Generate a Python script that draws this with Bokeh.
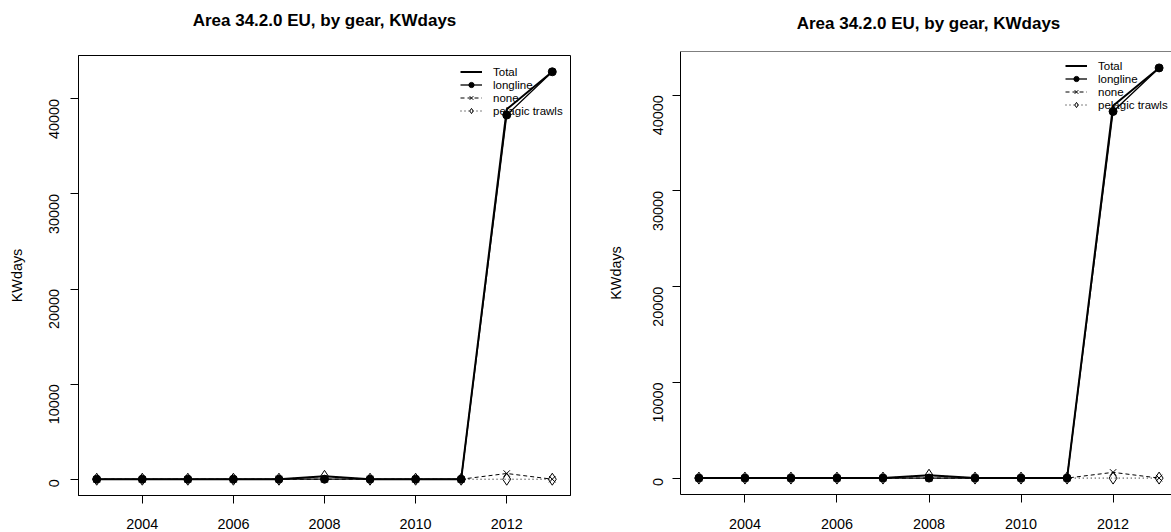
import math
from bokeh.plotting import figure
from bokeh.models import Range1d, FixedTicker, Legend, LegendItem, Span, Label
from bokeh.layouts import row, column
from bokeh.embed import file_html
from bokeh.resources import INLINE

# ---- data ----
years = [2003, 2004, 2005, 2006, 2007, 2008, 2009, 2010, 2011, 2012, 2013]
total = [0, 0, 0, 0, 0, 300, 0, 0, 0, 38900, 42850]
longline = [0, 0, 0, 0, 0, 0, 0, 0, 0, 38300, 42850]
none_gear = [0, 0, 0, 0, 0, 0, 0, 0, 0, 600, 0]
pelagic_trawls = [0, 0, 0, 0, 0, 300, 0, 0, 0, 0, 0]
x_ticks = [2004, 2006, 2008, 2010, 2012]
y_ticks = [0, 10000, 20000, 30000, 40000]
title_text = "Area 34.2.0 EU, by gear, KWdays"
y_label = "KWdays"
legend_labels = ["Total", "longline", "none", "pelagic trawls"]

FONT = "Liberation Sans"
H = 532
HT = 40  # height of the title strip


def make_title(width, cx, cy):
    t = figure(width=width, height=HT, x_range=Range1d(0, 1), y_range=Range1d(0, 1),
               output_backend="svg", toolbar_location=None,
               x_axis_location=None, y_axis_location=None,
               min_border_left=0, min_border_right=0, min_border_top=0,
               min_border_bottom=0, background_fill_color="white",
               border_fill_color="white")
    t.outline_line_color = None
    t.xgrid.visible = False
    t.ygrid.visible = False
    t.add_layout(Label(x=cx, y=HT - cy, x_units="screen", y_units="screen",
                       text=title_text, text_align="center", text_baseline="middle",
                       text_font=FONT, text_font_size="17px", text_font_style="bold",
                       text_color="black"))
    return t


def make_panel(width, mb_left, mb_right, mb_top, mb_bottom, x_end_frac, legend_loc,
               full_box, ylab_standoff, yaxis_standoff, xlab_standoff):
    ymax = max(max(total), max(longline), max(none_gear), max(pelagic_trawls))
    ymin = 0
    ypad = 0.04 * (ymax - ymin)
    xpad = 0.04 * (years[-1] - years[0])
    xlo = years[0] - xpad
    xhi = years[-1] + xpad
    if x_end_frac is not None:
        xhi = xlo + (xhi - xlo) * x_end_frac
    p = figure(width=width, height=H - HT, x_range=Range1d(xlo, xhi),
               y_range=Range1d(ymin - ypad, ymax + ypad),
               output_backend="svg", toolbar_location=None,
               min_border_left=mb_left, min_border_right=mb_right,
               min_border_top=mb_top, min_border_bottom=mb_bottom,
               background_fill_color="white", border_fill_color="white")
    p.xgrid.visible = False
    p.ygrid.visible = False
    if full_box:
        p.outline_line_color = "black"
        p.outline_line_width = 1
        p.outline_line_alpha = 1
    else:
        p.outline_line_color = None
        p.add_layout(Span(location=ymax + ypad, dimension="width",
                          line_color="black", line_width=1))

    for ax in (p.xaxis[0], p.yaxis[0]):
        ax.axis_line_color = "black"
        ax.major_tick_line_color = "black"
        ax.major_tick_out = 8
        ax.major_tick_in = 0
        ax.minor_tick_line_color = None
        ax.major_label_text_font = FONT
        ax.major_label_text_font_size = "14.4px"
        ax.major_label_text_color = "black"
    p.xaxis.ticker = FixedTicker(ticks=x_ticks)
    p.yaxis.ticker = FixedTicker(ticks=y_ticks)
    p.xaxis.major_label_standoff = xlab_standoff
    p.yaxis.major_label_standoff = ylab_standoff
    p.yaxis.major_label_orientation = math.pi / 2
    p.yaxis.axis_label = y_label
    p.yaxis.axis_label_text_font = FONT
    p.yaxis.axis_label_text_font_size = "14.4px"
    p.yaxis.axis_label_text_font_style = "normal"
    p.yaxis.axis_label_text_color = "black"
    p.yaxis.axis_label_standoff = yaxis_standoff

    r_total = p.line(years, total, line_color="black", line_width=2)
    r_ll = p.line(years, longline, line_color="black", line_width=1.3)
    r_ll_m = p.scatter(years, longline, marker="circle", size=8,
                       fill_color="black", line_color="black")
    r_none = p.line(years, none_gear, line_color="black", line_width=1, line_dash="4 3")
    r_none_m = p.scatter(years, none_gear, marker="x", size=9,
                         line_color="black", line_width=1)
    r_pel = p.line(years, pelagic_trawls, line_color="black", line_width=1, line_dash="1 3")
    r_pel_m = p.scatter(years, pelagic_trawls, marker="diamond", size=12,
                        fill_color=None, line_color="black", line_width=1)

    legend = Legend(items=[
        LegendItem(label=legend_labels[0], renderers=[r_total]),
        LegendItem(label=legend_labels[1], renderers=[r_ll, r_ll_m]),
        LegendItem(label=legend_labels[2], renderers=[r_none, r_none_m]),
        LegendItem(label=legend_labels[3], renderers=[r_pel, r_pel_m]),
    ], location=legend_loc, border_line_color=None, background_fill_alpha=0,
        padding=0, margin=0, spacing=0, glyph_width=22, glyph_height=13,
        label_height=13, label_standoff=11, label_text_font=FONT,
        label_text_font_size="11.5px", label_text_color="black")
    p.add_layout(legend)
    return p


# left panel: frame x 78..570, y 55..495 (page coords); title frame aligns with it
left_t = make_title(600, 246, 20)
left = make_panel(width=600, mb_left=78, mb_right=30, mb_top=55 - HT, mb_bottom=37,
                  x_end_frac=None, legend_loc=(382, 378), full_box=True,
                  ylab_standoff=16, yaxis_standoff=17, xlab_standoff=15)
# right panel: frame x 680..(clipped at 1171), y 51..494
right_frac = (1171 - 680.6) / (1177 - 680.6)
right_t = make_title(571, 248, 23)
right = make_panel(width=571, mb_left=80, mb_right=0, mb_top=51 - HT, mb_bottom=38,
                   x_end_frac=right_frac, legend_loc=(385, 383), full_box=False,
                   ylab_standoff=14, yaxis_standoff=22, xlab_standoff=16)

layout = row(column(left_t, left), column(right_t, right))
open("out.html", "w").write(file_html(layout, INLINE))
